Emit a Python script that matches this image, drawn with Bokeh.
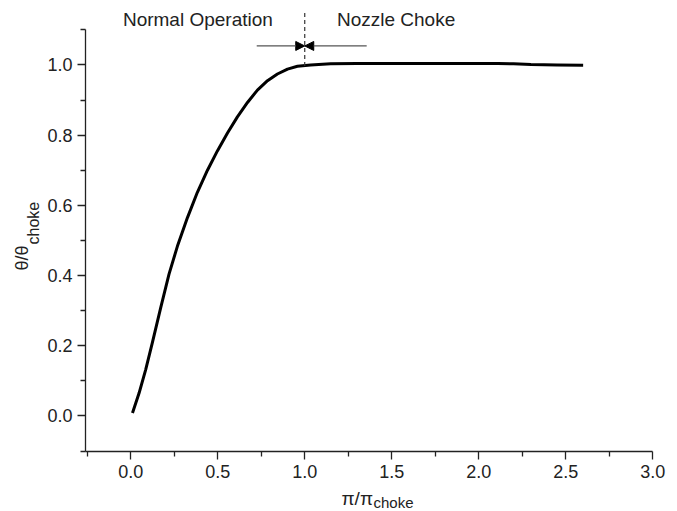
import numpy as np
from bokeh.plotting import figure
from bokeh.models import Range1d, Label, Arrow, NormalHead, FixedTicker, LinearAxis, PrintfTickFormatter
from bokeh.embed import file_html
from bokeh.resources import INLINE

# data
pr = [0.010, 0.048, 0.086, 0.125, 0.172, 0.220, 0.268, 0.326, 0.383, 0.441, 0.498, 0.556, 0.613,
      0.671, 0.728, 0.786, 0.843, 0.901, 0.958, 1.034, 1.149, 1.30, 1.45, 1.60, 1.80, 2.00, 2.11,
      2.20, 2.30, 2.45, 2.60]
th = [0.008, 0.065, 0.132, 0.210, 0.308, 0.404, 0.483, 0.565, 0.637, 0.700, 0.755, 0.806, 0.852,
      0.893, 0.928, 0.955, 0.974, 0.988, 0.996, 1.000, 1.003, 1.004, 1.004, 1.004, 1.004, 1.004, 1.004,
      1.003, 1.001, 1.000, 0.999]
x_ticks = [0.0, 0.5, 1.0, 1.5, 2.0, 2.5, 3.0]
x_minor = [-0.25, 0.25, 0.75, 1.25, 1.75, 2.25, 2.75]
y_ticks = [0.0, 0.2, 0.4, 0.6, 0.8, 1.0]
y_minor = [-0.1, 0.1, 0.3, 0.5, 0.7, 0.9, 1.1]
x_axis_span = (-0.26, 3.0)
y_axis_span = (-0.1, 1.1)
choke_x = 1.0
arrow_left = 0.724
arrow_right = 1.356
arrow_y = 1.054

FONT = "Liberation Sans"
INK = "#222222"

W, H = 677, 511
XPX, YPX = 174.0, 351.0  # pixels per data unit
x0 = x_axis_span[0] - 85 / XPX
y1 = y_axis_span[0] + 450.5 / YPX

p = figure(width=W, height=H, output_backend="svg", toolbar_location=None,
           x_range=Range1d(x0, x0 + W / XPX), y_range=Range1d(y1 - H / YPX, y1),
           x_axis_location=None, y_axis_location=None, min_border=0)
p.outline_line_color = None
p.grid.visible = False
p.background_fill_color = "white"

xax = LinearAxis(fixed_location=y_axis_span[0])
yax = LinearAxis(fixed_location=x_axis_span[0])
for ax in (xax, yax):
    ax.axis_line_width = 1.3
    ax.axis_line_color = INK
    ax.major_tick_line_color = INK
    ax.minor_tick_line_color = INK
    ax.major_tick_line_width = 1.3
    ax.minor_tick_line_width = 1.3
    ax.major_tick_out = 8
    ax.major_tick_in = 0
    ax.minor_tick_out = 5
    ax.minor_tick_in = 0
    ax.major_label_text_font = FONT
    ax.major_label_text_font_size = "18px"
    ax.major_label_text_color = INK
    ax.formatter = PrintfTickFormatter(format="%.1f")

xax.ticker = FixedTicker(ticks=x_ticks, minor_ticks=x_minor)
yax.ticker = FixedTicker(ticks=y_ticks, minor_ticks=y_minor)
xax.bounds = x_axis_span
yax.bounds = y_axis_span
xax.major_label_standoff = 6
yax.major_label_standoff = 5
p.add_layout(xax, "below")
p.add_layout(yax, "left")

p.line(pr, th, line_color="black", line_width=3, line_join="round")

# dashed marker at choke
p.segment(x0=[choke_x], y0=[0.997], x1=[choke_x], y1=[1.148], line_color="#333333",
          line_width=1.2, line_dash="4 3")

for xs in (arrow_left, arrow_right):
    p.add_layout(Arrow(x_start=xs, y_start=arrow_y, x_end=choke_x, y_end=arrow_y,
                       line_color="#555555", line_width=1.3,
                       end=NormalHead(size=9, fill_color="black", line_color="black")))

p.add_layout(Label(x=-0.045, y=1.128, text="Normal Operation", text_font=FONT, text_font_size="19px",
                   text_baseline="middle", text_align="left", text_color=INK))
p.add_layout(Label(x=1.185, y=1.128, text="Nozzle Choke", text_font=FONT, text_font_size="19px",
                   text_baseline="middle", text_align="left", text_color=INK))

# axis titles built from main text + subscript
def px_x(px):
    return x0 + px / XPX

def px_y(py):
    return y1 - py / YPX

p.add_layout(Label(x=px_x(341), y=px_y(497.5), text="\u03c0/\u03c0", text_font=FONT, text_font_size="19px",
                   text_baseline="middle", text_align="left", text_color=INK))
p.add_layout(Label(x=px_x(373), y=px_y(502), text="choke", text_font=FONT, text_font_size="15px",
                   text_baseline="middle", text_align="left", text_color=INK))

p.add_layout(Label(x=px_x(21), y=px_y(270), text="\u03b8/\u03b8", text_font=FONT, text_font_size="18px",
                   text_baseline="middle", text_align="left", text_color=INK, angle=np.pi / 2))
p.add_layout(Label(x=px_x(33), y=px_y(244), text="choke", text_font=FONT, text_font_size="16px",
                   text_baseline="middle", text_align="left", text_color=INK, angle=np.pi / 2))

open("out.html", "w").write(file_html(p, INLINE))
